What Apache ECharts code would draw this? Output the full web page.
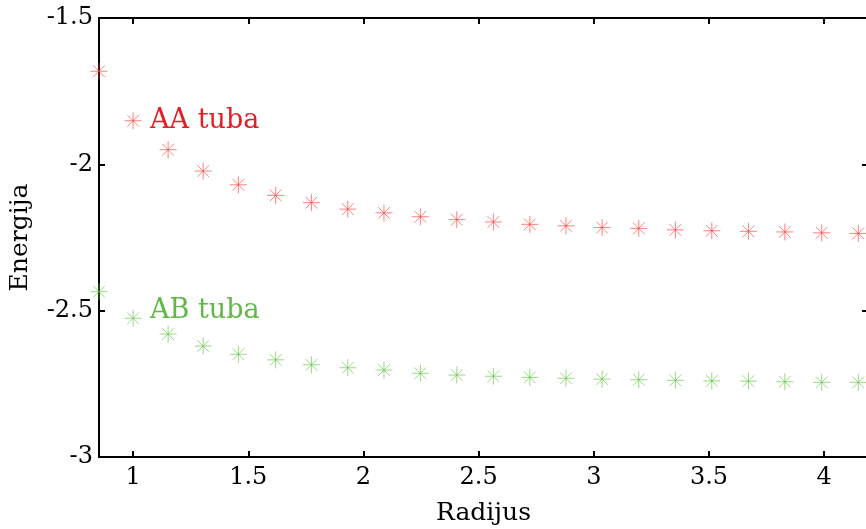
<!DOCTYPE html>
<html>
<head>
<meta charset="utf-8">
<script src="https://cdn.jsdelivr.net/npm/echarts@6/dist/echarts.min.js"></script>
<style>
html,body{margin:0;padding:0;background:#fff;}
#main{width:866px;height:529px;}
</style>
</head>
<body>
<div id="main"></div>
<script>
var radius = [0.852, 1.000, 1.152, 1.304, 1.457, 1.619, 1.774, 1.932, 2.089, 2.247, 2.405,
              2.564, 2.722, 2.879, 3.036, 3.195, 3.354, 3.512, 3.671, 3.829, 3.989, 4.148];
var aaTuba = [-1.682, -1.851, -1.950, -2.023, -2.070, -2.106, -2.131, -2.153, -2.166, -2.179, -2.189,
              -2.197, -2.205, -2.210, -2.216, -2.219, -2.224, -2.227, -2.229, -2.231, -2.234, -2.236];
var abTuba = [-2.435, -2.526, -2.580, -2.621, -2.649, -2.668, -2.685, -2.695, -2.703, -2.714, -2.720,
              -2.724, -2.728, -2.731, -2.734, -2.736, -2.738, -2.740, -2.741, -2.743, -2.745, -2.745];
var xTicks = [1, 1.5, 2, 2.5, 3, 3.5, 4];
var seriesNames = ['AA tuba', 'AB tuba'];
var labelIndex = 1;

var FONT = 'DejaVu Serif';
var star = 'path://M8,0L8,16M0,8L16,8M2.5,2.5L13.5,13.5M2.5,13.5L13.5,2.5';

function pts(ys) { return radius.map(function (x, i) { return [x, ys[i]]; }); }

function makeSeries(name, ys, stroke, textColor, offset) {
  var data = pts(ys).map(function (p, i) {
    var d = { value: p };
    if (i === labelIndex) {
      d.label = {
        show: true, position: 'right', distance: 8, formatter: name,
        color: textColor, fontFamily: FONT, fontSize: 27, offset: offset
      };
    }
    return d;
  });
  return {
    type: 'scatter', name: name, data: data,
    symbol: star, symbolSize: 17, symbolKeepAspect: true,
    itemStyle: { color: 'rgba(0,0,0,0)', borderColor: stroke, borderWidth: 1, opacity: 1 },
    label: { show: false },
    emphasis: { disabled: true },
    animation: false
  };
}

var chart = echarts.init(document.getElementById('main'));
var axisLine = { show: true, lineStyle: { color: '#000', width: 2 } };
chart.setOption({
  animation: false,
  grid: { left: 99, top: 18, width: 769, height: 439, containLabel: false, outerBoundsMode: 'none' },
  xAxis: [{
    type: 'value', min: 0.852, max: 4.19, position: 'bottom',
    name: 'Radijus', nameLocation: 'middle', nameGap: 44,
    nameTextStyle: { fontFamily: FONT, fontSize: 25, color: '#000' },
    axisLine: axisLine,
    axisTick: { show: true, inside: true, length: 6, customValues: xTicks, lineStyle: { color: '#000', width: 2 } },
    axisLabel: { show: true, customValues: xTicks, margin: 9, fontFamily: FONT, fontSize: 24, color: '#000' },
    splitLine: { show: false }
  }, {
    type: 'value', min: 0.852, max: 4.19, position: 'top',
    axisLine: axisLine,
    axisTick: { show: true, inside: true, length: 6, customValues: xTicks, lineStyle: { color: '#000', width: 2 } },
    axisLabel: { show: false },
    splitLine: { show: false }
  }],
  yAxis: [{
    type: 'value', min: -3, max: -1.5, interval: 0.5, position: 'left',
    name: 'Energija', nameLocation: 'middle', nameGap: 66, nameRotate: 90,
    nameTextStyle: { fontFamily: FONT, fontSize: 25, color: '#000' },
    axisLine: axisLine,
    axisTick: { show: true, inside: true, length: 6, lineStyle: { color: '#000', width: 2 } },
    axisLabel: { show: true, margin: 6, fontFamily: FONT, fontSize: 24, color: '#000' },
    splitLine: { show: false }
  }, {
    type: 'value', min: -3, max: -1.5, interval: 0.5, position: 'right',
    axisLine: axisLine,
    axisTick: { show: true, inside: true, length: 6, lineStyle: { color: '#000', width: 2 } },
    axisLabel: { show: false },
    splitLine: { show: false }
  }],
  series: [
    makeSeries(seriesNames[0], aaTuba, 'rgba(255,60,60,0.65)', '#E41E26', [0, 0]),
    makeSeries(seriesNames[1], abTuba, 'rgba(100,195,70,0.65)', '#62B846', [0, -7])
  ]
});
</script>
</body>
</html>
